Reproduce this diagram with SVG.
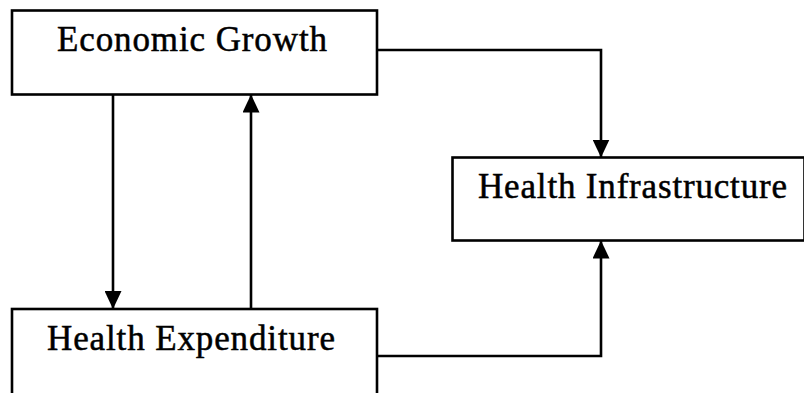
<svg xmlns="http://www.w3.org/2000/svg" width="804" height="393" viewBox="0 0 804 393">
  <style>
    .box { fill: #ffffff; stroke: #000000; stroke-width: 2.6; }
    .label { font-family: "Liberation Serif", "Times New Roman", serif; font-size: 35px; fill: #000000; stroke: #000000; stroke-width: 0.5; }
    .wire { fill: none; stroke: #000000; stroke-width: 2.6; }
  </style>
  <defs>
    <marker id="head" viewBox="0 0 18 17" refX="18" refY="8.5" markerWidth="18" markerHeight="17" markerUnits="userSpaceOnUse" orient="auto">
      <path d="M0,0 L18,8.5 L0,17 Z" fill="#000000"/>
    </marker>
  </defs>
  <rect width="804" height="393" fill="#ffffff"/>

  <g id="economic-growth">
    <rect class="box" x="12" y="10.5" width="365" height="84"/>
    <text class="label" x="57" y="51" textLength="270" lengthAdjust="spacing">Economic Growth</text>
  </g>

  <g id="health-infrastructure">
    <rect class="box" x="452.5" y="157.5" width="352" height="83"/>
    <text class="label" x="478" y="198" textLength="309" lengthAdjust="spacing">Health Infrastructure</text>
  </g>

  <g id="health-expenditure">
    <rect class="box" x="12" y="309" width="365" height="90"/>
    <text class="label" x="47" y="350" textLength="288" lengthAdjust="spacing">Health Expenditure</text>
  </g>

  <g id="connectors">
    <!-- growth -> expenditure -->
    <line class="wire" x1="113" y1="94.5" x2="113" y2="309" marker-end="url(#head)"/>
    <!-- expenditure -> growth -->
    <line class="wire" x1="251" y1="309" x2="251" y2="94.5" marker-end="url(#head)"/>
    <!-- growth -> infrastructure -->
    <polyline class="wire" points="377,50 601,50 601,157.5" marker-end="url(#head)"/>
    <!-- expenditure -> infrastructure -->
    <polyline class="wire" points="377,356 601,356 601,240.5" marker-end="url(#head)"/>
  </g>
</svg>
